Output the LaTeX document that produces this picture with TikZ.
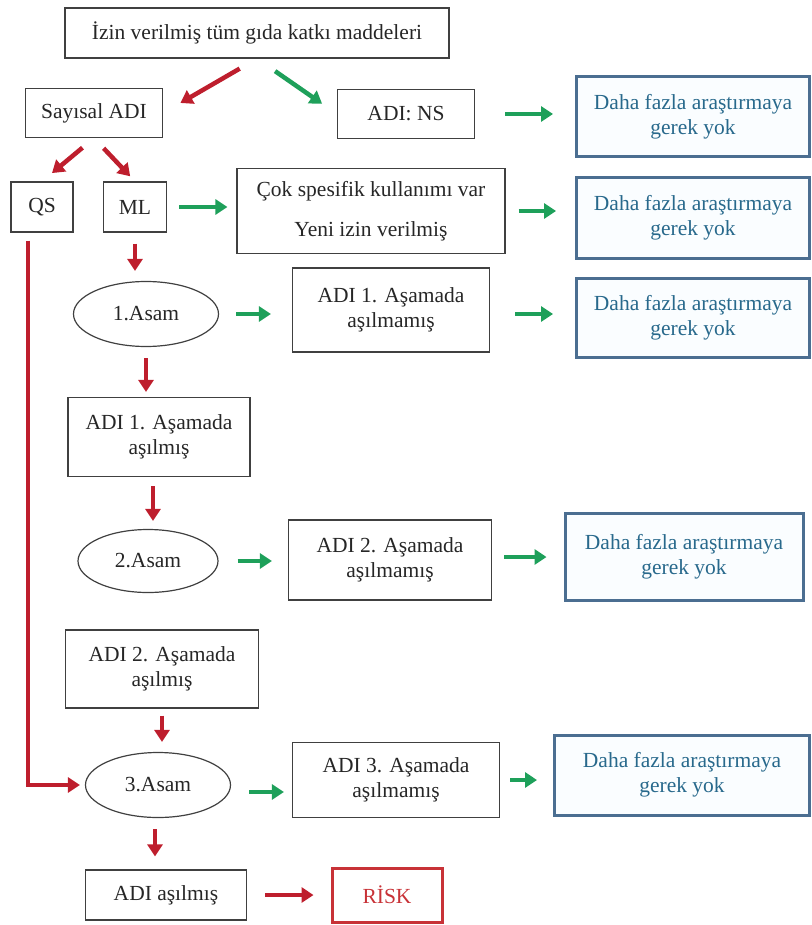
\documentclass[tikz,border=0pt]{standalone}
\usepackage{fontspec}
\setmainfont{Liberation Serif}
\usetikzlibrary{arrows.meta,shapes.geometric}
\definecolor{arrred}{RGB}{190,30,45}
\definecolor{arrgreen}{RGB}{30,160,90}
\definecolor{frameblue}{RGB}{75,110,145}
\definecolor{textblue}{RGB}{40,105,140}
\definecolor{riskred}{RGB}{200,50,55}
\begin{document}
\begin{tikzpicture}[x=1pt,y=-1pt,
    font=\fontsize{21.5}{25}\selectfont,
    box/.style={draw=black!75,line width=1.2pt,align=center,inner sep=2pt,text=black!85},
    stage/.style={draw=black!75,line width=1.2pt,ellipse,inner sep=0pt,text=black!85},
    endbox/.style={draw=frameblue,line width=3pt,fill=cyan!2,align=center,
      text=textblue,minimum width=233pt,minimum height=80pt},
    redarr/.style={draw=arrred,line width=4.5pt,-{Triangle[width=15pt,length=12pt]}},
    greenarr/.style={draw=arrgreen,line width=4.5pt,-{Triangle[width=15pt,length=12pt]}}]
  \useasboundingbox (0,0) rectangle (811,925);
  % boxes
  \draw
    (257,33) node[box,minimum width=384pt,minimum height=50pt] (all){İzin verilmiş tüm gıda katkı maddeleri}
    (94,113) node[box,minimum width=137pt,minimum height=49pt] (sayisal){Sayısal ADI}
    (406,114) node[box,minimum width=137pt,minimum height=49pt] (ns){ADI: NS}
    (42,207) node[box,minimum width=62pt,minimum height=50pt] (qs){QS}
    (135,207) node[box,minimum width=63pt,minimum height=50pt] (ml){ML}
    (371,211) node[box,minimum width=268pt,minimum height=85pt,font=\fontsize{21.5}{40}\selectfont] (cok){Çok spesifik kullanımı var\\Yeni izin verilmiş}
    (146,314) node[stage,minimum width=145pt,minimum height=65pt] (asam1){1.Asam}
    (391,310) node[box,minimum width=197pt,minimum height=84pt] (adi1n){ADI 1. Aşamada\\aşılmamış}
    (159,437) node[box,minimum width=182pt,minimum height=79pt] (adi1a){ADI 1. Aşamada\\aşılmış}
    (148,561) node[stage,minimum width=140pt,minimum height=63pt] (asam2){2.Asam}
    (390,560) node[box,minimum width=203pt,minimum height=80pt] (adi2n){ADI 2. Aşamada\\aşılmamış}
    (162,669) node[box,minimum width=193pt,minimum height=78pt] (adi2a){ADI 2. Aşamada\\aşılmış}
    (158,785) node[stage,minimum width=145pt,minimum height=65pt] (asam3){3.Asam}
    (396,780) node[box,minimum width=207pt,minimum height=75pt] (adi3n){ADI 3. Aşamada\\aşılmamış}
    (166,895) node[box,minimum width=161pt,minimum height=50pt] (adiasil){ADI aşılmış}
    (387,895) node[box,draw=riskred,line width=3pt,text=riskred,minimum width=110pt,minimum height=54pt] (risk){RİSK};
  % no further research needed
  \draw
    (693,117) node[endbox] (yok1){Daha fazla araştırmaya\\gerek yok}
    (693,218) node[endbox] (yok2){Daha fazla araştırmaya\\gerek yok}
    (693,318) node[endbox,minimum height=79pt] (yok3){Daha fazla araştırmaya\\gerek yok}
    (684,557) node[endbox,minimum width=238pt,minimum height=87pt] (yok4){Daha fazla araştırmaya\\gerek yok}
    (682,775) node[endbox,minimum width=255pt] (yok5){Daha fazla araştırmaya\\gerek yok};
  % arrows
  \begin{scope}
    \draw[redarr,shorten <=20pt,shorten >=20pt] (all.south) -- (sayisal.east);
    \draw[greenarr,shorten <=22pt,shorten >=18pt] (all.south) -- (ns.west);
    \draw[greenarr,shorten <=30pt,shorten >=22pt] (ns.east) -- (ns.east -| yok1.west);
    \draw[redarr,shorten <=15pt,shorten >=13pt] (sayisal.south) -- (qs.north);
    \draw[redarr,shorten <=14pt,shorten >=7pt] (sayisal.south) -- (ml.north);
    \draw[greenarr,shorten <=12pt,shorten >=9pt] (ml.east) -- (ml.east -| cok.west);
    \draw[greenarr,shorten <=13pt,shorten >=19pt] (cok.east) -- (cok.east -| yok2.west);
    \draw[redarr,shorten <=11pt,shorten >=10pt] (ml.south) -- (ml.south |- asam1.north);
    \draw[greenarr,shorten <=17pt,shorten >=21pt] (asam1.east) -- (asam1.east -| adi1n.west);
    \draw[greenarr,shorten <=25pt,shorten >=22pt] (adi1n.east |- asam1.east) -- (asam1.east -| yok3.west);
    \draw[redarr,shorten <=11pt,shorten >=5pt] (asam1.south) -- (asam1.south |- adi1a.north);
    \draw[redarr,shorten <=9pt,shorten >=8pt] ([xshift=-6pt]adi1a.south) -- ([xshift=-6pt]adi1a.south |- asam2.north);
    \draw[greenarr,shorten <=19pt,shorten >=16pt] (asam2.east) -- (asam2.east -| adi2n.west);
    \draw[greenarr,shorten <=12pt,shorten >=17pt] (adi2n.east |- yok4.west) -- (yok4.west);
    \draw[redarr,shorten <=7pt,shorten >=10pt] (adi2a.south) -- (adi2a.south |- asam3.north);
    \draw[greenarr,shorten <=18pt,shorten >=8pt] ([yshift=-7pt]asam3.east) -- ([yshift=-7pt]asam3.east -| adi3n.west);
    \draw[greenarr,shorten <=10pt,shorten >=16pt] (adi3n.east) -- (adi3n.east -| yok5.west);
    \draw[redarr,shorten <=11pt,shorten >=13pt] ([xshift=-3pt]asam3.south) -- ([xshift=-3pt]asam3.south |- adiasil.north);
    \draw[redarr,shorten <=18pt,shorten >=17pt] (adiasil.east) -- (risk.west);
    \draw[redarr,shorten >=5pt] ([xshift=-14pt,yshift=-8pt]qs.south) |- (asam3.west);
  \end{scope}
\end{tikzpicture}
\end{document}
